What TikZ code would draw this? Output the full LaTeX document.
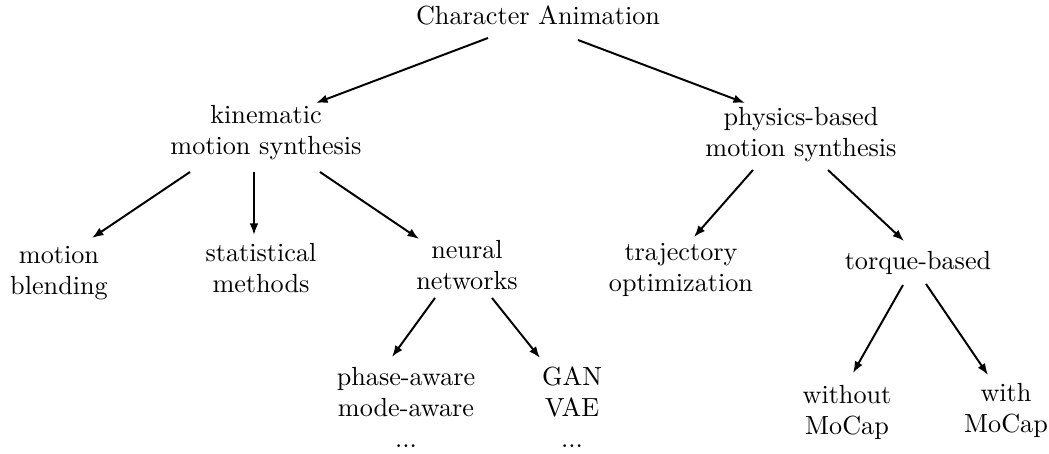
\documentclass[tikz,border=0pt]{standalone}
\usetikzlibrary{arrows.meta,calc}
\begin{document}
\begin{tikzpicture}[x=0.3817pt,y=-0.3817pt,
  lbl/.style={align=center,anchor=base,inner sep=0pt},
  edge/.style={line width=0.75pt,-{Latex[length=4.4pt,width=3.3pt]}}]
\useasboundingbox (0,0) rectangle (1049,454);

% taxonomy labels (placed by the baseline of their last line)
\node[lbl] (ca)   at (538,25)  {Character Animation};
\node[lbl] (kin)  at (266,155) {kinematic\\motion synthesis};
\node[lbl] (phy)  at (801,157) {physics-based\\motion synthesis};
\node[lbl] (mb)   at (59,295)  {motion\\blending};
\node[lbl] (stat) at (261,293) {statistical\\methods};
\node[lbl] (neu)  at (467,290) {neural\\networks};
\node[lbl] (traj) at (681,292) {trajectory\\optimization};
\node[lbl] (torq) at (918,270) {torque-based};
\node[lbl] (pha)  at (406,448) {phase-aware\\mode-aware\\...};
\node[lbl] (gan)  at (572,448) {GAN\\VAE\\...};
\node[lbl] (wo)   at (847,435) {without\\MoCap};
\node[lbl] (wi)   at (1006,433) {with\\MoCap};

% edges
\draw[edge] ($(ca.base)+(-50,13)$)  -- ($(kin.base)+(50,-52)$);
\draw[edge] ($(ca.base)+(40,15)$)   -- ($(phy.base)+(-56,-54)$);
\draw[edge] ($(kin.base)+(-76,17)$) -- ($(mb.base)+(33,-57)$);
\draw[edge] ($(kin.base)+(-12,17)$) -- ($(stat.base)+(-7,-58)$);
\draw[edge] ($(kin.base)+(54,17)$)  -- ($(neu.base)+(-48,-51)$);
\draw[edge] ($(phy.base)+(-48,13)$) -- ($(traj.base)+(13,-55)$);
\draw[edge] ($(phy.base)+(27,13)$)  -- ($(torq.base)+(-14,-29)$);
\draw[edge] ($(neu.base)+(-32,8)$)  -- ($(pha.base)+(-14,-91)$);
\draw[edge] ($(neu.base)+(25,8)$)   -- ($(gan.base)+(-32,-90)$);
\draw[edge] ($(torq.base)+(-15,15)$) -- ($(wo.base)+(6,-62)$);
\draw[edge] ($(torq.base)+(8,14)$)  -- ($(wi.base)+(-18,-58)$);
\end{tikzpicture}
\end{document}
